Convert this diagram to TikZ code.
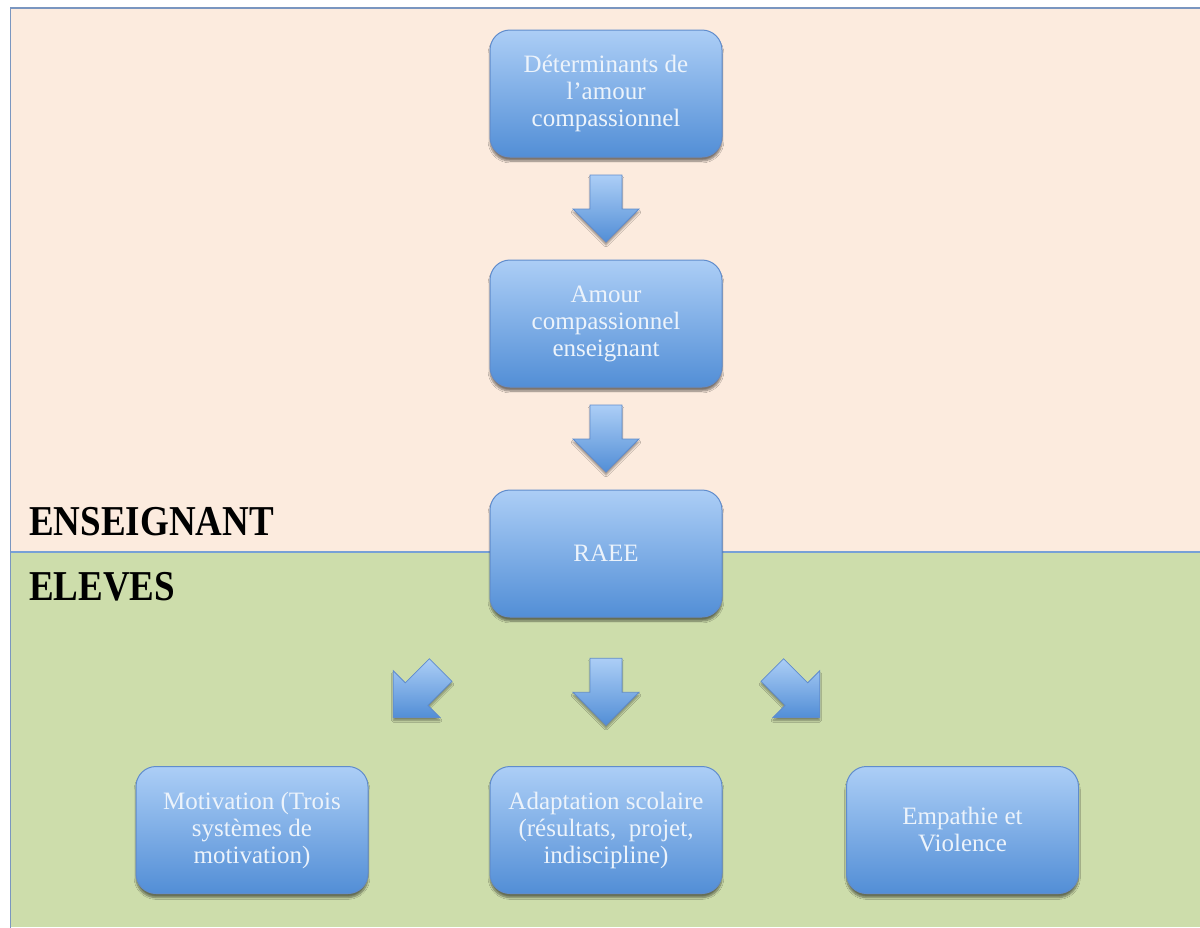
\documentclass[tikz,border=0pt]{standalone}
\usepackage{fontspec}
\setmainfont{Liberation Serif}
\usetikzlibrary{shadows.blur,calc}
\definecolor{peach}{RGB}{252,235,222}
\definecolor{sage}{RGB}{205,221,171}
\definecolor{framec}{RGB}{122,150,192}
\definecolor{divc}{RGB}{120,160,215}
\definecolor{boxtop}{RGB}{172,206,246}
\definecolor{boxbot}{RGB}{82,142,214}
\definecolor{boxline}{RGB}{96,140,204}
\definecolor{txtc}{RGB}{236,243,251}
\newcommand{\tallt}[1]{\scalebox{1}[1.15]{#1}}
\tikzset{
  box/.style={rounded corners=20pt, minimum width=232pt, minimum height=127pt,
    top color=boxtop, bottom color=boxbot, draw=boxline, line width=1pt,
    text=txtc, align=center, font=\fontsize{25}{27}\selectfont,
    blur shadow={shadow xshift=0pt, shadow yshift=-4pt, shadow blur steps=8, shadow opacity=50}},
  zone/.style={font=\bfseries\fontsize{37}{40}\selectfont, anchor=base west, inner sep=0pt},
  arrowfill/.style={top color=boxtop, bottom color=boxbot, draw=boxline, line width=0.8pt,
    blur shadow={shadow xshift=0pt, shadow yshift=-3pt, shadow blur steps=6, shadow opacity=40}},
  blockarrow/.pic={\path[arrowfill] (-16,-33.5) -- (16,-33.5) -- (16,0.5) -- (33,0.5)
      -- (0,33.5) -- (-33,0.5) -- (-16,0.5) -- cycle;}
}
\begin{document}
\begin{tikzpicture}[x=1pt,y=-1pt]
\useasboundingbox (0,0) rectangle (1200,927);
\fill[peach] (10.5,8) rectangle (1200,552);
\fill[sage] (10.5,552) rectangle (1200,927);
\draw[divc, line width=1.5pt] (10.5,552) -- (1200,552);
\draw[framec, line width=1.5pt] (1201,8) -- (10.5,8) -- (10.5,928);

\node[zone] (ens) at (29,535) {\tallt{ENSEIGNANT}};
\node[zone] (elv) at (29,600) {\tallt{ELEVES}};

\node[box] (b1) at (606,93.5) {Déterminants de\\l’amour\\compassionnel};
\node[box] (b2) at (606,323.5) {Amour\\compassionnel\\enseignant};
\node[box] (b3) at (606,553.5) {RAEE};
\node[box] (m) at (252,830) {Motivation (Trois\\systèmes de\\motivation)};
\node[box] (a) at (606,830) {Adaptation scolaire\\(résultats,~ projet,\\indiscipline)};
\node[box] (e) at (962.5,830) {Empathie et\\Violence};

\pic at ($(b1.south)!.5!(b2.north)$) {blockarrow};
\pic at ($(b2.south)!.5!(b3.north)$) {blockarrow};
\pic at ($(b3.south)!.5!(a.north)$) {blockarrow};
\pic[rotate=-45] at ($(b3.south)!.5!(a.north)+(-189,2)$) {blockarrow};
\pic[rotate=45] at ($(b3.south)!.5!(a.north)+(190,2)$) {blockarrow};
\end{tikzpicture}
\end{document}
